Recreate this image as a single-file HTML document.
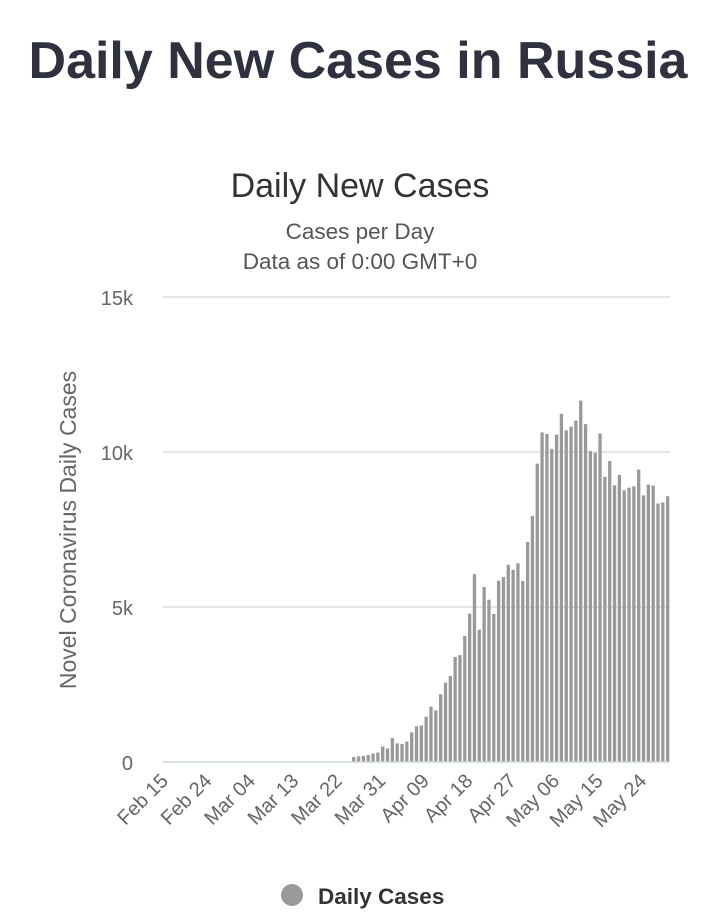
<!DOCTYPE html>
<html><head><meta charset="utf-8">
<style>
html,body{margin:0;padding:0;background:#fff;width:720px;height:924px;overflow:hidden}
svg{display:block}
</style></head>
<body>
<svg id="s" width="720" height="924" xmlns="http://www.w3.org/2000/svg" font-family="Liberation Sans, sans-serif">
<text x="358" y="78" text-anchor="middle" font-size="52" font-weight="bold" fill="#2f323e">Daily New Cases in Russia</text>
<text x="360" y="197" text-anchor="middle" font-size="34" fill="#333">Daily New Cases</text>
<text x="360" y="239" text-anchor="middle" font-size="22.5" fill="#555">Cases per Day</text>
<text x="360" y="269" text-anchor="middle" font-size="22.5" fill="#555">Data as of 0:00 GMT+0</text>
<g stroke="#e6e6e6" stroke-width="2">
<line x1="163" y1="297" x2="670" y2="297"/>
<line x1="163" y1="452" x2="670" y2="452"/>
<line x1="163" y1="607" x2="670" y2="607"/>
</g>
<g font-size="20" fill="#666" text-anchor="end">
<text x="133" y="305">15k</text>
<text x="133" y="460">10k</text>
<text x="133" y="615">5k</text>
<text x="133" y="770">0</text>
</g>
<text transform="translate(76,530) rotate(-90)" text-anchor="middle" font-size="23" fill="#666">Novel Coronavirus Daily Cases</text>
<g id="bars" fill="#999"></g>
<line x1="163" y1="762" x2="670" y2="762" stroke="#ccd6e0" stroke-width="1.5"/>
<g id="xl" font-size="20" fill="#666"></g>
<circle cx="292" cy="895" r="11" fill="#999"/>
<text x="318" y="904" font-size="22.5" font-weight="bold" fill="#333">Daily Cases</text>
</svg>
<script>
var d=[163,182,196,228,270,302,501,440,771,601,582,658,954,1154,1175,1459,1786,1667,2186,2558,2774,3388,3448,4070,4785,6060,4268,5642,5236,4774,5849,5966,6361,6198,6411,5841,7099,7933,9623,10633,10581,10102,10559,11231,10699,10817,11012,11656,10899,10028,9974,10598,9200,9709,8926,9263,8764,8849,8894,9434,8599,8946,8915,8338,8371,8572];
var ppd=4.83,x0=163,base=762,k=0.031,ns="http://www.w3.org/2000/svg";
var g=document.getElementById("bars");
d.forEach(function(v,i){var idx=39+i;var r=document.createElementNS(ns,"rect");var h=v*k;
r.setAttribute("x",(x0+idx*ppd+0.7).toFixed(2));r.setAttribute("width","3.3");
r.setAttribute("y",(base-h).toFixed(2));r.setAttribute("height",h.toFixed(2));g.appendChild(r);});
var labs=["Feb 15","Feb 24","Mar 04","Mar 13","Mar 22","Mar 31","Apr 09","Apr 18","Apr 27","May 06","May 15","May 24"];
var xl=document.getElementById("xl");
labs.forEach(function(l,i){var x=x0+(i*9+0.5)*ppd+4;var t=document.createElementNS(ns,"text");
t.setAttribute("text-anchor","end");t.setAttribute("transform","translate("+x.toFixed(1)+",782) rotate(-45)");
t.textContent=l;xl.appendChild(t);});
</script>
</body></html>
